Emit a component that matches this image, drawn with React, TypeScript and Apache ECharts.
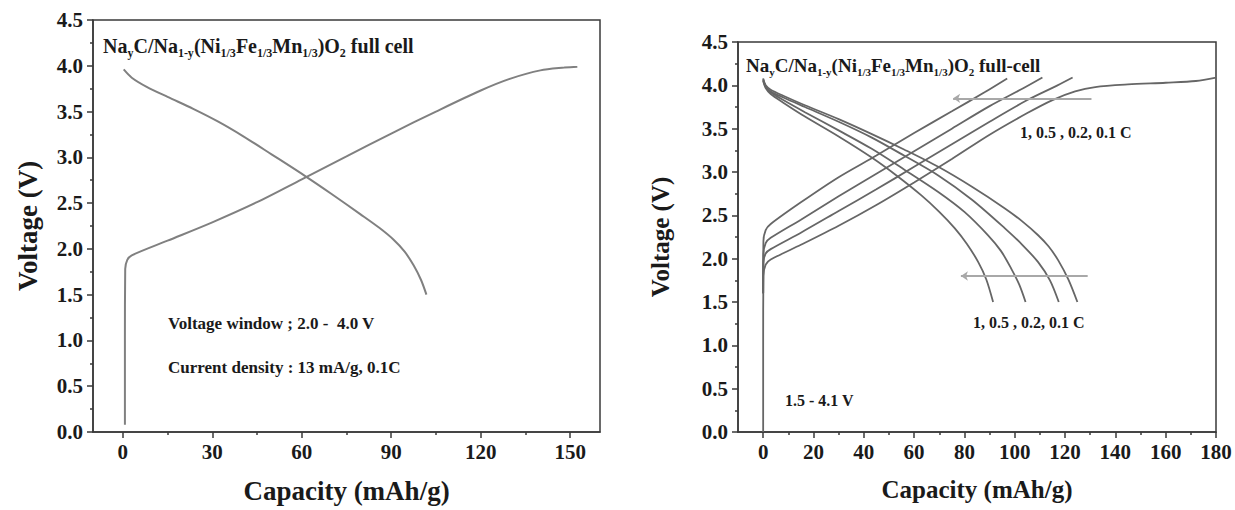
import React, { useEffect, useRef } from 'react';
import * as echarts from 'echarts';

// ---------- data ----------
const leftXTicks = [0, 30, 60, 90, 120, 150];
const leftXMinor = [15, 45, 75, 105, 135];
const rightXTicks = [0, 20, 40, 60, 80, 100, 120, 140, 160, 180];
const rightXMinor = [10, 30, 50, 70, 90, 110, 130, 150, 170];

const leftCharge: [number, number][] = [
  [0.7, 0.08], [0.7, 1.0], [0.8, 1.78], [1.5, 1.88], [3, 1.93], [15, 2.09], [30, 2.29],
  [45, 2.51], [60, 2.76], [75, 3.01], [90, 3.26], [105, 3.5], [120, 3.73], [130, 3.86],
  [140, 3.95], [148, 3.98], [152.4, 3.99],
];
const leftDischarge: [number, number][] = [
  [0.3, 3.96], [3, 3.87], [8, 3.77], [15, 3.66], [23.6, 3.53], [32, 3.39], [40.4, 3.23],
  [50, 3.03], [61.4, 2.79], [70, 2.6], [79.6, 2.38], [86, 2.23], [90.8, 2.1], [94.5, 1.97],
  [97.5, 1.82], [100, 1.66], [101.8, 1.5],
];

const charge1C: [number, number][] = [
  [0, 1.6], [0.1, 2.2], [1, 2.33], [3, 2.4], [15, 2.65], [30, 2.94], [45, 3.19], [60, 3.45],
  [75, 3.7], [88, 3.92], [97, 4.08],
];
const charge05C: [number, number][] = [
  [0, 1.6], [0.1, 2.05], [1, 2.18], [3, 2.24], [15, 2.45], [30, 2.72], [45, 2.98], [60, 3.24],
  [75, 3.5], [90, 3.76], [103, 3.96], [111, 4.09],
];
const charge02C: [number, number][] = [
  [0, 1.6], [0.1, 1.95], [1, 2.06], [3, 2.11], [15, 2.3], [30, 2.55], [45, 2.8], [60, 3.06],
  [75, 3.32], [90, 3.58], [105, 3.83], [117, 4.0], [123, 4.09],
];
const charge01C: [number, number][] = [
  [0, 0], [0, 1.0], [0.1, 1.8], [1, 1.93], [3, 1.99], [15, 2.16], [30, 2.38], [45, 2.62],
  [60, 2.88], [75, 3.15], [90, 3.43], [105, 3.68], [115, 3.83], [124, 3.93], [132, 3.98],
  [145, 4.01], [160, 4.03], [172, 4.05], [180, 4.09],
];
const discharge1C: [number, number][] = [
  [0, 4.05], [1, 3.97], [3, 3.9], [8, 3.8], [16.6, 3.64], [30, 3.41], [43, 3.17], [53, 2.96],
  [62.9, 2.73], [70, 2.54], [76.2, 2.35], [81, 2.17], [85.5, 1.96], [88.7, 1.76], [91.4, 1.5],
];
const discharge05C: [number, number][] = [
  [0, 4.06], [1, 3.98], [3, 3.92], [8, 3.83], [16.6, 3.69], [30, 3.48], [43, 3.27], [56, 3.03],
  [69.6, 2.77], [80, 2.54], [89.4, 2.27], [94.5, 2.09], [98.7, 1.88], [101.8, 1.7], [104.3, 1.5],
];
const discharge02C: [number, number][] = [
  [0, 4.07], [1, 3.99], [3, 3.93], [8, 3.86], [16.6, 3.75], [30, 3.58], [43, 3.4], [56, 3.19],
  [69.6, 2.96], [83, 2.68], [96.1, 2.35], [103, 2.16], [109.3, 1.96], [114, 1.75], [117.5, 1.5],
];
const discharge01C: [number, number][] = [
  [0, 4.08], [1, 4.0], [3, 3.95], [8, 3.88], [16.6, 3.77], [30, 3.61], [43, 3.44], [56, 3.26],
  [69.6, 3.06], [83, 2.83], [96.1, 2.58], [103, 2.43], [109.3, 2.27], [113.5, 2.14],
  [117.3, 1.98], [121.3, 1.76], [124.9, 1.5],
];

const arrowCharge: [number, number][] = [[130.5, 3.85], [75.5, 3.85]];
const arrowDischarge: [number, number][] = [[129, 1.8], [78.6, 1.8]];

// ---------- styles ----------
const SERIF = "'Liberation Serif', 'Times New Roman', serif";
const AX = '#3a3a3a';
const TXT = '#1a1a1a';

function xAxes(grid: number, min: number, max: number, ticks: number[], minor: number[], nameSize: number) {
  return [
    {
      gridIndex: grid, type: 'value', position: 'bottom', min, max,
      axisLine: { show: true, onZero: false, lineStyle: { color: AX, width: 1.5 } },
      axisTick: { show: true, length: 6, customValues: ticks, lineStyle: { color: AX, width: 1.5 } },
      axisLabel: { customValues: ticks, fontFamily: SERIF, fontWeight: 'bold', fontSize: 21, color: TXT, margin: 9 },
      splitLine: { show: false },
      name: 'Capacity (mAh/g)', nameLocation: 'middle', nameGap: 45,
      nameTextStyle: { fontFamily: SERIF, fontWeight: 'bold', fontSize: nameSize, color: TXT },
    },
    {
      gridIndex: grid, type: 'value', position: 'bottom', min, max,
      axisLine: { show: false, onZero: false },
      axisTick: { show: true, length: 3, customValues: minor, lineStyle: { color: AX, width: 1.5 } },
      axisLabel: { show: false },
      splitLine: { show: false },
    },
  ];
}

function yAxis(grid: number, nameSize: number, nameGap: number) {
  return {
    gridIndex: grid, type: 'value', min: 0, max: 4.5, interval: 0.5,
    axisLine: { show: true, onZero: false, lineStyle: { color: AX, width: 1.5 } },
    axisTick: { show: true, length: 6, lineStyle: { color: AX, width: 1.5 } },
    minorTick: { show: true, splitNumber: 2, length: 3, lineStyle: { color: AX, width: 1.5 } },
    axisLabel: {
      fontFamily: SERIF, fontWeight: 'bold', fontSize: 21, color: TXT, margin: 10,
      formatter: (v: number) => v.toFixed(1),
    },
    splitLine: { show: false },
    name: 'Voltage (V)', nameLocation: 'middle', nameGap, nameRotate: 90,
    nameTextStyle: { fontFamily: SERIF, fontWeight: 'bold', fontSize: nameSize, color: TXT },
  };
}

function curve(data: [number, number][], xi: number, yi: number, color: string, width: number) {
  return {
    type: 'line', data, xAxisIndex: xi, yAxisIndex: yi, showSymbol: false, symbol: 'none',
    smooth: 0.3, silent: true, lineStyle: { color, width },
  };
}

function arrow(coords: [number, number][]) {
  return {
    type: 'line', data: [], xAxisIndex: 2, yAxisIndex: 1, silent: true,
    markLine: {
      silent: true, symbol: ['none', 'arrow'], symbolSize: 7,
      label: { show: false },
      lineStyle: { color: '#a8a8a8', width: 2, type: 'solid' },
      data: [[{ coord: coords[0] }, { coord: coords[1] }]],
    },
  };
}

const richBase = (size: number, sub: number, pad: number) => ({
  n: { fontFamily: SERIF, fontWeight: 'bold', fontSize: size, fill: TXT },
  s: { fontFamily: SERIF, fontWeight: 'bold', fontSize: sub, fill: TXT, padding: [pad, 0, 0, 0] },
});

const titleLeft = '{n|Na}{s|y}{n|C/Na}{s|1-y}{n|(Ni}{s|1/3}{n|Fe}{s|1/3}{n|Mn}{s|1/3}{n|)O}{s|2}{n| full cell}';
const titleRight = '{n|Na}{s|y}{n|C/Na}{s|1-y}{n|(Ni}{s|1/3}{n|Fe}{s|1/3}{n|Mn}{s|1/3}{n|)O}{s|2}{n| full-cell}';

function label(text: string, x: number, y: number, size: number) {
  return {
    type: 'text', x, y, silent: true,
    style: { text, fontFamily: SERIF, fontWeight: 'bold', fontSize: size, fill: TXT, textVerticalAlign: 'middle' },
  };
}

export default function App() {
  const ref = useRef<HTMLDivElement>(null);
  useEffect(() => {
    const chart = echarts.init(ref.current!, null, { renderer: 'svg' });
    const gray = '#808080';
    const dark = '#666666';
    chart.setOption({
      animation: false,
      backgroundColor: '#fff',
      grid: [
        { left: 93, top: 20, width: 507, height: 412, show: true, borderColor: AX, borderWidth: 1.5, backgroundColor: 'transparent' },
        { left: 738, top: 42, width: 478, height: 390, show: true, borderColor: AX, borderWidth: 1.5, backgroundColor: 'transparent' },
      ],
      xAxis: [
        ...xAxes(0, -10, 160, leftXTicks, leftXMinor, 27),
        ...xAxes(1, -10, 180, rightXTicks, rightXMinor, 25),
      ],
      yAxis: [yAxis(0, 27, 52), yAxis(1, 25, 65)],
      series: [
        curve(leftCharge, 0, 0, gray, 2),
        curve(leftDischarge, 0, 0, gray, 2),
        curve(charge1C, 2, 1, dark, 1.8),
        curve(charge05C, 2, 1, dark, 1.8),
        curve(charge02C, 2, 1, dark, 1.8),
        curve(charge01C, 2, 1, dark, 1.8),
        curve(discharge1C, 2, 1, dark, 1.8),
        curve(discharge05C, 2, 1, dark, 1.8),
        curve(discharge02C, 2, 1, dark, 1.8),
        curve(discharge01C, 2, 1, dark, 1.8),
        arrow(arrowCharge),
        arrow(arrowDischarge),
      ],
      graphic: [
        {
          type: 'text', x: 103, y: 46, silent: true,
          style: { text: titleLeft, rich: richBase(20, 12, 14), textVerticalAlign: 'middle' },
        },
        {
          type: 'text', x: 746, y: 65, silent: true,
          style: { text: titleRight, rich: richBase(19, 11, 13), textVerticalAlign: 'middle' },
        },
        label('Voltage window ; 2.0 -  4.0 V', 168, 323, 17),
        label('Current density : 13 mA/g, 0.1C', 168, 367, 17),
        label('1, 0.5 , 0.2, 0.1 C', 1020, 132, 16),
        label('1, 0.5 , 0.2, 0.1 C', 973, 322, 16),
        label('1.5 - 4.1 V', 785, 400, 16),
      ],
    });
    return () => chart.dispose();
  }, []);
  return (
    <div
      ref={ref}
      style={{ position: 'absolute', left: 0, top: 0, width: 1235, height: 510, background: '#fff' }}
    />
  );
}
